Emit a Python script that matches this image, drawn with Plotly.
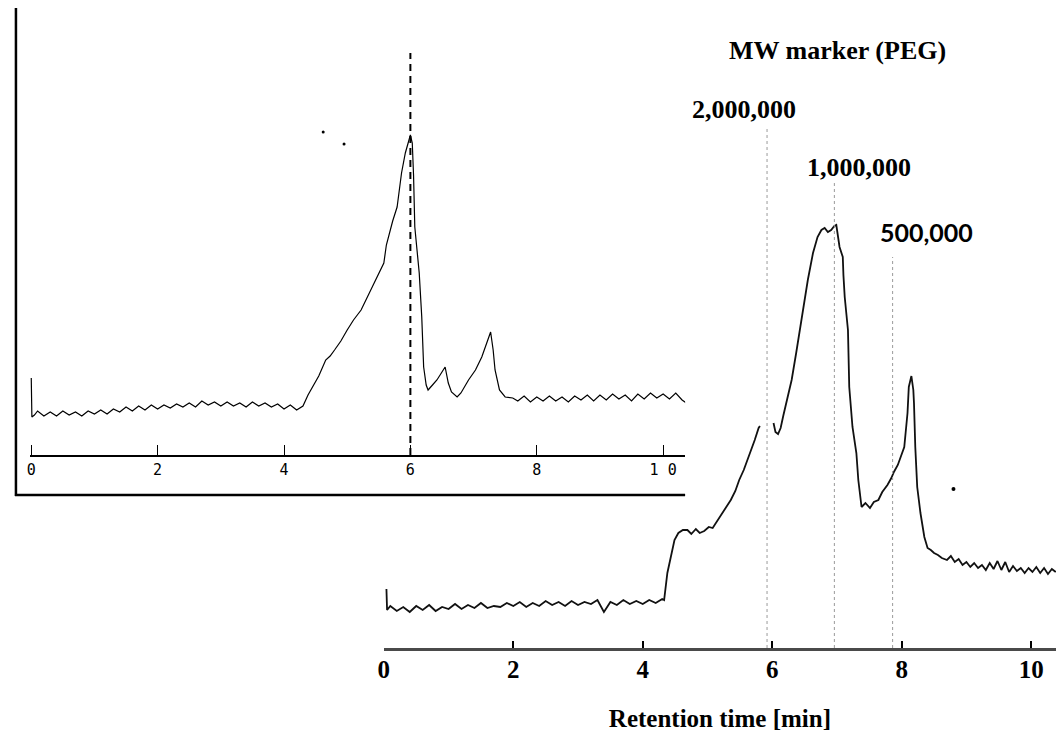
import plotly.graph_objects as go

W, H = 1056, 736

# ---------------- data: inset chromatogram (retention time in min, detector signal) -------------
inset_time = [0.00, 0.01, 0.05, 0.1, 0.2, 0.3, 0.4, 0.5, 0.6, 0.7, 0.8, 0.9, 1.0, 1.1, 1.2, 1.3, 1.4,
              1.5, 1.6, 1.7, 1.8, 1.9, 2.0, 2.1, 2.2, 2.3, 2.4, 2.5, 2.6, 2.7, 2.8, 2.9, 3.0, 3.1,
              3.2, 3.3, 3.4, 3.5, 3.6, 3.7, 3.8, 3.9, 4.0, 4.1, 4.2, 4.3,
              4.38, 4.45, 4.55, 4.66, 4.73, 4.80, 4.90, 5.00, 5.10, 5.22, 5.32, 5.43, 5.50, 5.58,
              5.62, 5.65, 5.72, 5.79, 5.83, 5.86, 5.92, 5.97, 6.00, 6.03, 6.05, 6.07, 6.14, 6.18,
              6.21, 6.25, 6.28, 6.35, 6.42, 6.50, 6.55, 6.60, 6.65, 6.74, 6.80, 6.92, 7.03, 7.13,
              7.22, 7.27, 7.31, 7.34, 7.41, 7.50, 7.62,
              7.7, 7.8, 7.9, 8.0, 8.1, 8.2, 8.3, 8.4, 8.5, 8.6, 8.7, 8.8, 8.9, 9.0, 9.1, 9.2, 9.3,
              9.4, 9.5, 9.6, 9.7, 9.8, 9.9, 10.0, 10.1, 10.2, 10.3, 10.37]
inset_signal = [7.7, 3.8, 4.0, 4.4, 3.9, 4.3, 3.9, 4.4, 4.0, 4.3, 3.9, 4.4, 4.1, 4.5, 4.1, 4.6, 4.3,
                4.8, 4.4, 4.9, 4.5, 5.0, 4.6, 5.0, 4.7, 5.1, 4.8, 5.2, 4.8, 5.4, 5.0, 5.3, 4.9, 5.3,
                4.9, 5.2, 4.8, 5.3, 4.9, 5.2, 4.8, 5.1, 4.6, 5.0, 4.5, 4.9,
                6.0, 6.8, 7.9, 9.5, 9.9, 10.5, 11.4, 12.5, 13.5, 14.5, 15.8, 17.2, 18.2, 19.2,
                21.0, 21.8, 23.4, 24.8, 26.5, 28.2, 30.2, 31.5, 32.0, 31.2, 28.0, 22.8, 18.2, 13.8,
                8.8, 7.0, 6.5, 7.0, 7.5, 8.3, 8.8, 7.2, 6.3, 5.8, 6.2, 7.5, 8.5, 9.8,
                11.3, 12.3, 10.5, 8.5, 6.5, 5.8, 5.7,
                5.4, 5.9, 5.3, 5.8, 5.4, 5.9, 5.4, 5.8, 5.3, 5.9, 5.5, 6.0, 5.4, 6.0, 5.5, 6.1, 5.6,
                6.0, 5.4, 6.1, 5.6, 6.2, 5.7, 6.1, 5.6, 6.2, 5.5, 5.2]
inset_specks_time = [4.62, 4.95]
inset_specks_signal = [32.3, 31.1]
inset_ticks = [0, 2, 4, 6, 8, 10]
inset_ticktext = ["0", "2", "4", "6", "8", "1 0"]
inset_marker_time = 6.0

# ---------------- data: main chromatogram -------------
main_time = [0.04, 0.05, 0.1, 0.2, 0.3, 0.4, 0.5, 0.6, 0.7, 0.8, 0.9, 1.0, 1.1, 1.2, 1.3, 1.4, 1.5,
             1.6, 1.7, 1.8, 1.9, 2.0, 2.1, 2.2, 2.3, 2.4, 2.5, 2.6, 2.7, 2.8, 2.9, 3.0, 3.1, 3.2,
             3.3, 3.4, 3.5, 3.6, 3.7, 3.8, 3.9, 4.0, 4.1, 4.2, 4.3, 4.33,
             4.38, 4.45, 4.49, 4.55, 4.62, 4.69, 4.75, 4.82, 4.88, 4.95, 5.02, 5.08, 5.15, 5.22,
             5.29, 5.36, 5.43, 5.49, 5.56, 5.62, 5.68, 5.73, 5.79, 5.81, 5.90,
             6.02, 6.05, 6.09, 6.13, 6.17, 6.19, 6.25, 6.30, 6.37, 6.45, 6.50, 6.55, 6.63, 6.70,
             6.76, 6.81, 6.86, 6.91, 6.96, 6.99, 7.04, 7.09, 7.10, 7.12, 7.17, 7.19, 7.24, 7.30,
             7.33, 7.36, 7.38, 7.44, 7.51, 7.57, 7.64, 7.70, 7.78, 7.84, 7.88, 7.94, 7.99, 8.04,
             8.09, 8.11, 8.15, 8.18, 8.19, 8.21, 8.24, 8.29, 8.35, 8.40, 8.45, 8.50, 8.56, 8.62,
             8.70, 8.76, 8.82, 8.88, 8.94, 9.00, 9.06, 9.12, 9.18, 9.24, 9.30, 9.36, 9.42, 9.48,
             9.54, 9.60, 9.66, 9.72, 9.78, 9.84, 9.90, 9.96, 10.02, 10.08, 10.14, 10.20, 10.26,
             10.32, 10.38]
main_signal = [5.9, 3.8, 4.2, 3.7, 4.1, 3.6, 4.2, 3.8, 4.3, 3.7, 4.1, 3.9, 4.4, 3.9, 4.3, 4.0, 4.5,
               4.0, 4.2, 4.1, 4.5, 4.2, 4.6, 4.1, 4.5, 4.2, 4.7, 4.3, 4.6, 4.2, 4.7, 4.3, 4.6, 4.4,
               4.8, 3.6, 4.6, 4.3, 4.8, 4.4, 4.7, 4.4, 4.8, 4.5, 4.9, 4.8,
               7.5, 9.5, 10.8, 11.5, 11.8, 11.8, 11.4, 11.9, 11.5, 11.7, 12.1, 12.0, 12.7, 13.3,
               14.0, 14.8, 15.7, 16.8, 17.8, 18.8, 19.9, 20.8, 22.0, 22.2, None,
               22.5, 21.6, 21.4, 22.0, 23.2, 23.8, 25.5, 26.8, 29.5, 32.8, 35.0, 36.8, 39.5, 41.1,
               41.8, 42.0, 41.6, 41.8, 42.2, 42.3, 40.1, 39.1, 37.3, 35.1, 31.8, 26.1, 22.1, 19.5,
               16.8, 14.8, 14.1, 14.5, 14.0, 14.6, 14.8, 15.6, 16.3, 17.0, 17.6, 18.3, 19.1, 20.1,
               23.5, 26.1, 27.2, 25.8, 24.5, 20.1, 16.1, 13.5, 11.1, 10.0, 9.8, 9.5, 9.3, 9.0,
               8.8, 9.2, 8.6, 8.9, 8.3, 8.6, 8.1, 8.5, 8.0, 8.3, 7.8, 8.5, 7.9, 8.7,
               7.8, 8.6, 7.6, 8.2, 7.7, 8.0, 7.5, 8.0, 7.6, 8.1, 7.5, 8.0, 7.4,
               7.9, 7.6]
main_specks_time = [8.80]
main_specks_signal = [15.9]
main_ticks = [0, 2, 4, 6, 8, 10]
main_ticktext = ["0", "2", "4", "6", "8", "10"]

# MW marker (PEG) retention times and labels
marker_times = [5.92, 6.96, 7.86]
marker_labels = ["2,000,000", "1,000,000", "500,000"]

# ---------------- layout helpers (positions/styles) -------------
def px_x(p):
    return p / W

def px_y(p):
    return 1 - p / H

marker_line_tops = [52.1, 46.5, 39.1]
marker_label_pos = [(742, 110), (858, 167), (926, 232)]
marker_label_fonts = [dict(family="Liberation Serif", size=26, color="black", weight="bold"),
                      dict(family="Liberation Serif", size=26, color="black", weight="bold"),
                      dict(family="Lato", size=25, color="black", weight="bold")]

fig = go.Figure()

fig.add_trace(go.Scatter(x=inset_time, y=inset_signal, xaxis="x", yaxis="y", mode="lines",
                         line=dict(color="black", width=1.2), showlegend=False, hoverinfo="skip"))
fig.add_trace(go.Scatter(x=inset_specks_time, y=inset_specks_signal, xaxis="x", yaxis="y",
                         mode="markers", marker=dict(color="black", size=3), showlegend=False,
                         hoverinfo="skip"))
fig.add_trace(go.Scatter(x=main_time, y=main_signal, xaxis="x2", yaxis="y2", mode="lines",
                         connectgaps=False, line=dict(color="#111111", width=1.8),
                         showlegend=False, hoverinfo="skip"))
fig.add_trace(go.Scatter(x=main_specks_time, y=main_specks_signal, xaxis="x2", yaxis="y2",
                         mode="markers", marker=dict(color="black", size=4), showlegend=False,
                         hoverinfo="skip"))

shapes = []
# inset outer frame (left and bottom)
shapes.append(dict(type="line", xref="paper", yref="paper", x0=px_x(10), x1=px_x(10),
                   y0=px_y(8), y1=px_y(496), line=dict(color="black", width=2.5)))
shapes.append(dict(type="line", xref="paper", yref="paper", x0=px_x(9), x1=px_x(683),
                   y0=px_y(495), y1=px_y(495), line=dict(color="black", width=2.5)))
# inset dashed marker line
shapes.append(dict(type="line", xref="x", yref="y", x0=inset_marker_time, x1=inset_marker_time,
                   y0=0, y1=40.2, line=dict(color="black", width=2, dash="7px,5px")))
# MW marker dotted lines
for t, top in zip(marker_times, marker_line_tops):
    shapes.append(dict(type="line", xref="x2", yref="y2", x0=t, x1=t, y0=0, y1=top,
                       line=dict(color="#9a9a9a", width=1, dash="dot")))

annotations = [dict(text="MW marker (PEG)", xref="paper", yref="paper", x=px_x(836), y=px_y(50),
                    xanchor="center", yanchor="middle", showarrow=False,
                    font=dict(family="Liberation Serif", size=26, color="black", weight="bold"))]
for lab, (lx, ly), f in zip(marker_labels, marker_label_pos, marker_label_fonts):
    annotations.append(dict(text=lab, xref="paper", yref="paper", x=px_x(lx), y=px_y(ly),
                            xanchor="center", yanchor="middle", showarrow=False, font=f))

fig.update_layout(
    width=W, height=H, margin=dict(l=0, r=0, t=0, b=0),
    paper_bgcolor="white", plot_bgcolor="rgba(0,0,0,0)",
    shapes=shapes, annotations=annotations, showlegend=False,
    xaxis=dict(domain=[px_x(24), px_x(683)], range=[-0.022, 10.348], anchor="y",
               showline=True, linecolor="black", linewidth=1.5, ticks="inside", ticklen=10,
               tickwidth=1, tickcolor="black", tickvals=inset_ticks, ticktext=inset_ticktext,
               tickfont=dict(family="DejaVu Sans Mono", size=15, color="black"),
               ticklabelstandoff=0, showgrid=False, zeroline=False),
    yaxis=dict(domain=[px_y(455), px_y(8)], range=[0, 44.7], anchor="x", visible=False),
    xaxis2=dict(domain=[px_x(380), 1.0], range=[0, 10.384], anchor="y2",
                showline=True, linecolor="#4a4a4a", linewidth=3, ticks="inside", ticklen=7,
                tickwidth=2, tickcolor="black", tickvals=main_ticks, ticktext=main_ticktext,
                tickfont=dict(family="Liberation Serif", size=25, color="black", weight="bold"),
                ticklabelstandoff=-3, showgrid=False, zeroline=False,
                title=dict(text="Retention time [min]", standoff=28,
                           font=dict(family="Liberation Serif", size=25, color="black",
                                     weight="bold"))),
    yaxis2=dict(domain=[px_y(648), px_y(100)], range=[0, 54.8], anchor="x2", visible=False),
)

fig.write_html("out.html")
